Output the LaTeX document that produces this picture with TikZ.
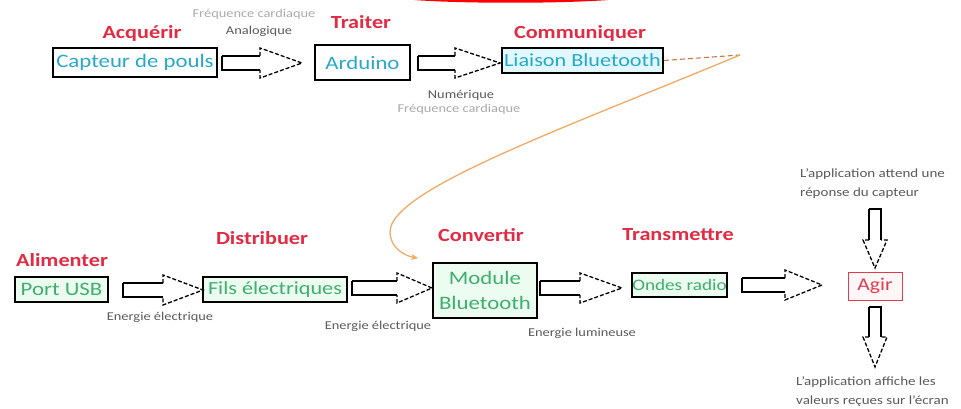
\documentclass[tikz,border=0pt]{standalone}
\usepackage{fontspec}
\setmainfont{Carlito}[FakeStretch=1.2]
\usetikzlibrary{calc,arrows.meta}
\definecolor{titlered}{RGB}{226,42,66}
\definecolor{cyantext}{RGB}{40,168,200}
\definecolor{greentext}{RGB}{62,175,110}
\definecolor{cyanfill}{RGB}{226,248,255}
\definecolor{greenfill}{RGB}{236,252,240}
\definecolor{notegray}{RGB}{90,90,90}
\definecolor{lightnote}{RGB}{170,170,170}
\definecolor{orangeline}{RGB}{240,170,100}
\definecolor{orangedark}{RGB}{200,120,70}
\definecolor{agirred}{RGB}{222,60,80}
\newcommand{\blockarrowh}[4]{%
  \draw[arrowline] (#1,#4-7) -- (#2,#4-7) (#1,#4-7) -- (#1,#4+7) -- (#2,#4+7);
  \draw[arrowline,headdash] (#2,#4-7) -- (#2,#4-15) -- (#3,#4) -- (#2,#4+15) -- (#2,#4+7);}
\newcommand{\blockarrowv}[4]{%
  \draw[arrowline] (#4-6,#1) -- (#4-6,#2) (#4-6,#1) -- (#4+6,#1) -- (#4+6,#2);
  \draw[arrowline,headdash] (#4-6,#2) -- (#4-12,#2) -- (#4,#3) -- (#4+12,#2) -- (#4+6,#2);}
\begin{document}
\begin{tikzpicture}[x=1pt,y=-1pt,
  titlelab/.style={text=titlered, font=\bfseries\fontsize{18.5}{20}\selectfont, inner sep=0},
  boxnode/.style={draw=black, line width=1.8pt, inner sep=0, align=center,
     font=\fontsize{19}{22}\selectfont},
  topbox/.style={boxnode, text=cyantext},
  botbox/.style={boxnode, text=greentext, fill=greenfill},
  note/.style={font=\fontsize{12}{13}\selectfont, text=notegray, inner sep=0},
  lightnotestyle/.style={font=\fontsize{12}{13}\selectfont, text=lightnote, inner sep=0},
  sidenote/.style={font=\fontsize{12.5}{19}\selectfont, text=notegray, inner sep=0, align=left, anchor=west},
  arrowline/.style={line width=1.3pt, black},
  headdash/.style={dash pattern=on 4pt off 2pt}]
\useasboundingbox (0,0) rectangle (961,409);

% red arc at top
\draw[red, line width=3pt] (392,-4) .. controls (430,3) and (590,3) .. (632,-4);

% titles
\node[titlelab] (tAcq) at (142,33) {Acquérir};
\node[titlelab] (tTra) at (361,22) {Traiter};
\node[titlelab] (tCom) at (580,33) {Communiquer};
\node[titlelab] (tAli) at (62,260) {Alimenter};
\node[titlelab] (tDis) at (262,238) {Distribuer};
\node[titlelab] (tCon) at (481,235) {Convertir};
\node[titlelab] (tTrm) at (678,235) {Transmettre};

% top boxes
\node[topbox, minimum width=164, minimum height=29] (capteur) at (135,62.5) {Capteur de pouls};
\node[topbox, minimum width=95, minimum height=35] (arduino) at (362.5,62.5) {Arduino};
\node[topbox, fill=cyanfill, minimum width=161, minimum height=25, font=\fontsize{18.5}{22}\selectfont] (liaison) at (582.5,60.5) {Liaison Bluetooth};

% bottom boxes
\node[botbox, minimum width=93, minimum height=25] (usb) at (61.5,289.5) {Port USB};
\node[botbox, minimum width=144, minimum height=25, font=\fontsize{18.5}{22}\selectfont] (fils) at (275,289.5) {Fils électriques};
\node[botbox, minimum width=104, minimum height=55, font=\fontsize{19}{25}\selectfont] (module) at (485,290.5) {Module\\Bluetooth};
\node[botbox, minimum width=95, minimum height=24, font=\fontsize{16}{18}\selectfont] (ondes) at (679.5,285) {Ondes radio};
\node[draw=agirred, line width=1pt, fill=red!3, text=agirred, inner sep=0,
      minimum width=54, minimum height=28, font=\fontsize{18}{20}\selectfont] (agir) at (875,286) {Agir};

% notes
\node[lightnotestyle] (n1a) at (254,14) {Fréquence cardiaque};
\node[note] (n1b) at (259,31) {Analogique};
\node[note] (n2a) at (461,95) {Numérique};
\node[lightnotestyle] (n2b) at (459,109) {Fréquence cardiaque};
\node[note] (n3) at (160,317) {Energie électrique};
\node[note] (n4) at (378,326) {Energie électrique};
\node[note] (n5) at (582,333) {Energie lumineuse};
\node[sidenote] (n6) at (800,184) {L'application attend une\\réponse du capteur};
\node[sidenote] (n7) at (796,392) {L'application affiche les\\valeurs reçues sur l'écran};

% block arrows
\blockarrowh{222}{260}{302}{63}
\blockarrowh{418}{455}{500}{63}
\blockarrowh{123}{163}{203}{290}
\blockarrowh{352}{397}{432}{288}
\blockarrowh{540}{580}{622}{288}
\blockarrowh{742}{785}{822}{285}
\blockarrowv{209}{240}{268}{875}
\blockarrowv{307}{337}{367}{875}

% orange connector
\coordinate (turn) at (740,55);
\draw[orangedark, line width=1.1pt, dash pattern=on 5pt off 3pt] (liaison.east) -- (turn);
\draw[orangeline, line width=1.3pt, -{Stealth[length=7pt,width=6pt]}]
  (turn) .. controls (560,130) and (390,190) .. (390,232)
  .. controls (390,248) and (405,256) .. ($(module.north west)+(-14,-4)$);
\end{tikzpicture}
\end{document}
